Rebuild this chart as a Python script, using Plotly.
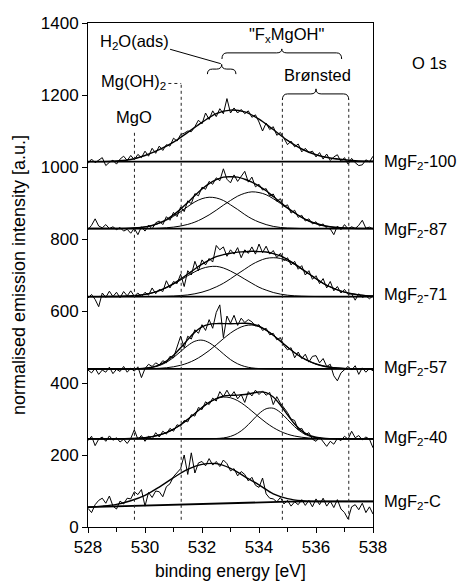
import numpy as np
import plotly.graph_objects as go

# ---------------- data ----------------
E_DATA = np.round(528 + 0.125 * np.arange(81), 3)   # measured points
E_FIT = np.round(528 + 0.25 * np.arange(41), 2)     # fitted components
E_ENV = 528 + 0.5 * np.arange(21)                   # single-peak envelopes
E_BASE_C = 528 + 1.0 * np.arange(11)

sample_labels = ["MgF<sub>2</sub>-100", "MgF<sub>2</sub>-87", "MgF<sub>2</sub>-71",
                 "MgF<sub>2</sub>-57", "MgF<sub>2</sub>-40", "MgF<sub>2</sub>-C"]
label_y = [1014, 825, 644, 442, 247, 69]

base_100, base_87, base_71, base_57, base_40 = 1015, 829, 640, 439, 245

data_100 = [1010,1022,1012,1020,1026,1004,1013,1019,1008,1022,1030,1018,1032,1020,1035,1026,1044,1030,1052,1038,
            1058,1046,1062,1058,1080,1072,1090,1094,1100,1098,1112,1130,1120,1150,1132,1156,1140,1162,1148,1190,
            1150,1164,1150,1160,1148,1156,1138,1145,1125,1100,1122,1104,1112,1088,1096,1080,1062,1072,1056,1064,
            1042,1052,1040,1044,1028,1040,1022,1036,1018,1028,1034,1015,1026,1008,1024,1012,1004,1006,1020,1014,1030]
data_87 = [826,838,856,836,831,840,829,834,826,832,822,827,816,830,812,834,822,838,828,845,
           850,840,862,852,874,862,889,876,906,898,926,920,944,938,960,952,970,962,995,966,
           956,978,960,975,988,958,972,945,952,936,940,920,925,905,912,890,895,872,880,860,
           866,850,856,842,848,836,842,830,828,812,836,826,840,828,834,829,838,852,830,833,828]
data_71 = [636,646,632,612,650,638,655,640,652,637,654,642,656,641,650,640,652,644,664,648,
           660,654,684,664,682,676,702,668,712,700,738,712,742,728,746,736,782,770,778,752,
           770,758,776,748,770,760,778,758,786,762,780,758,768,748,760,740,748,728,738,716,
           726,700,712,688,698,676,690,664,682,656,668,650,660,646,648,630,648,638,642,634,642]
data_57 = [436,428,441,424,436,430,444,426,438,432,446,430,441,433,445,415,440,452,446,456,
           450,462,456,474,470,500,530,498,530,522,548,538,562,546,576,552,596,617,526,586,
           566,588,560,580,568,576,570,558,562,546,552,534,538,520,526,504,492,498,470,486,
           468,480,458,474,476,456,468,446,452,420,406,428,436,446,436,448,424,442,430,440,434]
data_40 = [240,252,226,244,250,238,253,241,248,236,244,232,246,270,244,254,238,252,244,262,
           250,266,258,274,266,284,280,296,292,312,308,332,326,348,340,358,350,376,362,380,
           362,376,356,368,346,376,364,380,368,378,366,374,340,362,344,330,318,300,296,270,
           274,256,262,244,238,250,236,224,238,230,246,240,252,244,266,248,254,242,250,244,220]
data_C = [52,40,62,74,80,66,86,58,50,72,64,80,78,98,90,104,58,96,82,100,
          98,84,112,120,140,150,162,200,146,206,150,178,182,170,190,172,182,168,186,176,
          156,162,142,154,146,128,138,116,110,136,92,80,78,70,82,64,74,58,70,62,
          76,60,74,56,78,62,80,58,72,54,76,50,40,22,56,62,48,66,40,56,36]

# fitted component heights above the baseline (0.25 eV steps)
c1_87 = [0,0,0,0,0,0.5,1,2.4,4.6,8.5,14.5,23,34,47,61,74,83,87,85,78,66,53,39,27,18,11,6,3,1.5,0.8,
         0,0,0,0,0,0,0,0,0,0,0]
c2_87 = [0,0,0,0,0,0,0,0,0,0,1.1,2.2,4,7,11.5,18,27,38,51,65,78,90,98,102,100,94,83,70,56,43,31,21,14,
         8.5,5,2.8,1.5,0.7,0.3,0.1,0]
c1_71 = [0,0,0.1,0.2,0.4,0.9,1.9,3.5,6.2,10.3,16.4,24.5,34.5,46,58,69,78,83,84,79.5,71,60.5,48.5,37,26,
         18,11.4,6.9,3.9,2.1,1.1,0.5,0.2,0,0,0,0,0,0,0,0]
c2_71 = [0,0,0,0,0,0,0,0,0.1,0.2,0.4,0.8,1.5,2.8,4.7,7.8,12.3,18.6,27,37,49.5,63,76,89,99,106,108,106,
         99,89,76,63,49.5,37,27,18.6,12.3,7.8,4.7,2.8,1.5]
c1_57 = [0,0,0,0,0,0,0.2,0.6,1.6,4.2,9.4,18.4,32,48.5,65,77,80,73,59,42,26,14.3,6.9,2.9,1.1,0.4,0.1,
         0,0,0,0,0,0,0,0,0,0,0,0,0,0]
c2_57 = [0,0,0,0,0,0,0,0.2,0.4,0.9,1.8,3.3,6,10.2,16.5,25.3,37,51,67,84,99.7,112,120,122,117.6,107.7,
         93.7,77.3,60.6,45,32,21.5,13.7,8.3,4.8,2.6,1.3,0.6,0.3,0.1,0]
c1_40 = [0,0,0,0.1,0.2,0.4,0.8,1.7,3.3,6.1,10.5,17.2,26.7,39,54,70.4,86.8,101,111,116,114,106,93,77,
         60.3,44.7,31.3,20.7,12.9,7.6,4.3,2.2,1.1,0.5,0.2,0,0,0,0,0,0]
c2_40 = [0,0,0,0,0,0,0,0,0,0,0,0,0,0,0,0,0.1,0.3,0.8,2.4,6.7,15.4,30,49.6,69.9,83.4,84.9,73.3,53.7,
         33.6,17.8,8,3.1,1,0.3,0.1,0,0,0,0,0]

env_100 = [1015,1015,1017,1021,1032,1048,1069,1096,1124,1148,1158,1153,1133,1104,1074,1050,1034,1025,
           1020,1017,1016]
env_C = [55,58,63,73,88,111,137,160,174,176,163,140,117,92,79,73,71,71,71,71,71]
base_C = [55,57.5,60,62.5,65,67.5,69.5,70.5,71,71,71]

for arr in (data_100, data_87, data_71, data_57, data_40, data_C):
    assert len(arr) == 81, len(arr)
for arr in (c1_87, c2_87, c1_71, c2_71, c1_57, c2_57, c1_40, c2_40):
    assert len(arr) == 41, len(arr)

# reference lines (binding energies) and braces
ref_lines = [  # x, y_top
    (529.63, 1103), (531.27, 1232), (534.82, 1186), (537.15, 1186)]
ref_bottom = 20
mgoh_stub = (530.82, 531.27, 1232)
braces = [  # x0, x1, xm, y_end, y_mid, y_tip
    (534.82, 537.15, 536.0, 1186, 1203, 1217),
    (532.70, 536.90, 534.80, 1300, 1317, 1328),
    (532.19, 533.19, 532.69, 1258, 1272, 1285)]
h2o_connector = ([530.88, 532.66], [1327, 1287])

FONT = "Liberation Sans, Arial, Helvetica, sans-serif"
FS = 16.5

fig = go.Figure()

def line(x, y, w=1.0, shape="linear"):
    fig.add_trace(go.Scatter(x=x, y=y, mode="lines", line=dict(color="black", width=w, shape=shape),
                             hoverinfo="skip", showlegend=False))

E_FIT_L = list(E_FIT)
# baselines
for b in (base_100, base_87, base_71, base_57, base_40):
    line([528, 538], [b, b], 1.8)
line(list(E_BASE_C), base_C, 1.8)

# measured data
for d in (data_100, data_87, data_71, data_57, data_40, data_C):
    line(list(E_DATA), d, 1.0)

# components and envelopes
for b, c1, c2 in ((base_87, c1_87, c2_87), (base_71, c1_71, c2_71),
                  (base_57, c1_57, c2_57), (base_40, c1_40, c2_40)):
    c1a, c2a = np.array(c1), np.array(c2)
    line(E_FIT_L, list(b + c1a), 1.0, "spline")
    line(E_FIT_L, list(b + c2a), 1.0, "spline")
    line(E_FIT_L, list(b + c1a + c2a), 1.4, "spline")
line(list(E_ENV), env_100, 1.4, "spline")
line(list(E_ENV), env_C, 1.4, "spline")

# dashed reference lines
DASH = dict(color="#222222", width=1, dash="3px,3px")
shapes = []
for x, yt in ref_lines:
    shapes.append(dict(type="line", x0=x, x1=x, y0=ref_bottom, y1=yt, xref="x", yref="y", line=DASH))
shapes.append(dict(type="line", x0=mgoh_stub[0], x1=mgoh_stub[1], y0=mgoh_stub[2], y1=mgoh_stub[2],
                   xref="x", yref="y", line=DASH))
# curly braces
r = 0.18
for x0, x1, xm, ye, ymid, yt in braces:
    p = (f"M {x0},{ye} Q {x0},{ymid} {x0 + r},{ymid} L {xm - r},{ymid} Q {xm},{ymid} {xm},{yt} "
         f"Q {xm},{ymid} {xm + r},{ymid} L {x1 - r},{ymid} Q {x1},{ymid} {x1},{ye}")
    shapes.append(dict(type="path", path=p, xref="x", yref="y", line=dict(color="black", width=1)))
shapes.append(dict(type="line", x0=h2o_connector[0][0], x1=h2o_connector[0][1],
                   y0=h2o_connector[1][0], y1=h2o_connector[1][1], xref="x", yref="y",
                   line=dict(color="black", width=1)))

ann = []
def text(t, x, y, xref="x", yref="y", xanchor="center", size=FS, **kw):
    ann.append(dict(text=t, x=x, y=y, xref=xref, yref=yref, xanchor=xanchor, yanchor="middle",
                    showarrow=False, font=dict(family=FONT, size=size, color="black"), **kw))

text("H<sub>2</sub>O(ads)", 529.62, 1347)
text('"F<sub>x</sub>MgOH"', 534.98, 1367)
text("Brønsted", 536.04, 1256)
text("Mg(OH)<sub>2</sub>", 529.58, 1236)
text("MgO", 529.6, 1139)
text("O 1s", 1.198, 1289, xref="paper")
for lab, yy in zip(sample_labels, label_y):
    text(lab, 1.031, yy, xref="paper", xanchor="left")
text("binding energy [eV]", 0.5, 0, xref="paper", yref="paper", yshift=-44, size=17.5)
text("normalised emission intensity [a.u.]", 0, 0.5, xref="paper", yref="paper",
     xshift=-69, textangle=-90, size=18)

axis_common = dict(showgrid=False, zeroline=False, showline=True, linecolor="black", linewidth=1,
                   mirror=True, ticks="outside", tickcolor="black", ticklen=5, tickwidth=1,
                   tickfont=dict(family=FONT, size=17, color="black"))

fig.update_layout(
    width=457, height=582, margin=dict(l=88, r=84, t=23, b=55),
    paper_bgcolor="white", plot_bgcolor="white",
    xaxis=dict(range=[528, 538], tickvals=[528, 530, 532, 534, 536, 538],
               minor=dict(dtick=1, tick0=528, ticks="outside", ticklen=4, tickcolor="black"),
               **axis_common),
    yaxis=dict(range=[0, 1400], tickvals=[0, 200, 400, 600, 800, 1000, 1200, 1400], **axis_common),
    shapes=shapes, annotations=ann, showlegend=False,
)

fig.write_html("out.html")
